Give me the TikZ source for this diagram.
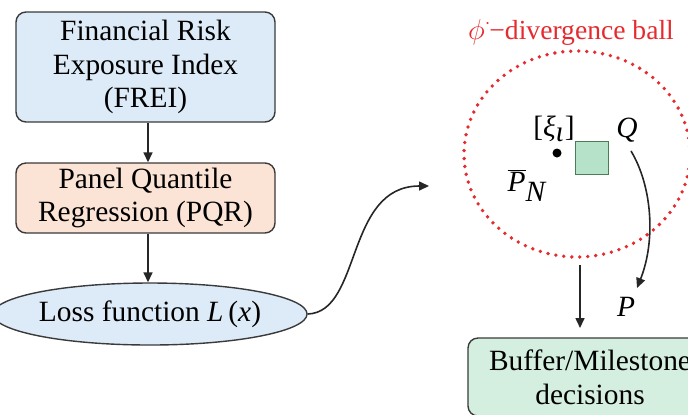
\documentclass[tikz,border=0pt]{standalone}
\usepackage{fontspec}
\setmainfont{Liberation Serif}
\usetikzlibrary{shapes.geometric,arrows.meta}
\definecolor{boxblue}{HTML}{DDEBF8}
\definecolor{boxpeach}{HTML}{FBE3D6}
\definecolor{boxgreen}{HTML}{D4EEDF}
\definecolor{sqgreen}{HTML}{B5E2C8}
\definecolor{sqedge}{HTML}{4A7D56}
\definecolor{ballred}{HTML}{E52B2F}
\definecolor{edgegray}{HTML}{3A3A3A}
\tikzset{
  flowbox/.style={draw=edgegray, line width=0.7pt, rounded corners=5pt, align=center, inner sep=0pt},
  conn/.style={draw=black!85, line width=0.8pt, -{Triangle[length=5pt,width=4.5pt]}},
  lbl/.style={inner sep=1pt},
}
\begin{document}
\begin{tikzpicture}[x=0.5pt,y=-0.5pt,font=\fontsize{14.7}{16.8}\selectfont]
\useasboundingbox (0,0) rectangle (688,414);
% left column
\node[flowbox, fill=boxblue, minimum width=129.5pt, minimum height=55pt] (frei) at (145.5,67)
  {Financial Risk\\Exposure Index\\(FREI)};
\node[flowbox, fill=boxpeach, minimum width=129.5pt, minimum height=35pt] (pqr) at (145.5,198)
  {Panel Quantile\\Regression (PQR)};
\node[ellipse, draw=edgegray, line width=0.7pt, fill=boxblue, minimum width=136.5pt, minimum height=31pt, inner sep=0pt] (loss) at (150,314)
  {Loss function \textit{L}\,(\textit{x})};
\draw[conn] (frei.south -| 148,0) -- (pqr.north -| 148,0);
\draw[conn] (pqr.south -| 148,0) -- (loss.north -| 148,0);
% S curve
\coordinate (tip) at (429,186);
\draw[conn] (loss.east) .. controls (362,312) and (345,186) .. (tip);
% ball
\node[ellipse, draw=ballred, line width=1.9pt, dash pattern=on 0pt off 4pt, line cap=round, minimum width=113pt, minimum height=103pt, inner sep=0pt] (ball) at (577,154) {};
\node[lbl, text=ballred, font=\fontsize{13.8}{16}\selectfont] (balllbl) at (571,32) {$\phi^{\cdot}$\kern-1pt−divergence ball};
\node[circle, fill=black, inner sep=0pt, minimum size=4.5pt] (dot) at (557,153) {};
\node[lbl] (xi) at (554,129) {[\textit{ξ}$_{\textit{ι}}$]};
\node[draw=sqedge, line width=0.8pt, fill=sqgreen, minimum size=16.5pt, inner sep=0pt] (sq) at (592,158) {};
\node[lbl] (q) at (627,130) {\textit{Q}};
\node[lbl] (pn) at (527,185) {$\overline{\textit{P}}_{\textit{N}}$};
\node[lbl] (p) at (626,307) {\textit{P}};
\coordinate (ptip) at (637,288);
\draw[conn] (631,151) .. controls (652,186) and (656,240) .. (ptip);
% down arrow
\coordinate (a1) at (580,265);
\coordinate (a2) at (580,328);
\draw[conn] (a1) -- (a2);
\node[flowbox, fill=boxgreen, minimum width=122pt, minimum height=39pt] (buf) at (590,377)
  {Buffer/Milestone\\decisions};
\end{tikzpicture}
\end{document}
